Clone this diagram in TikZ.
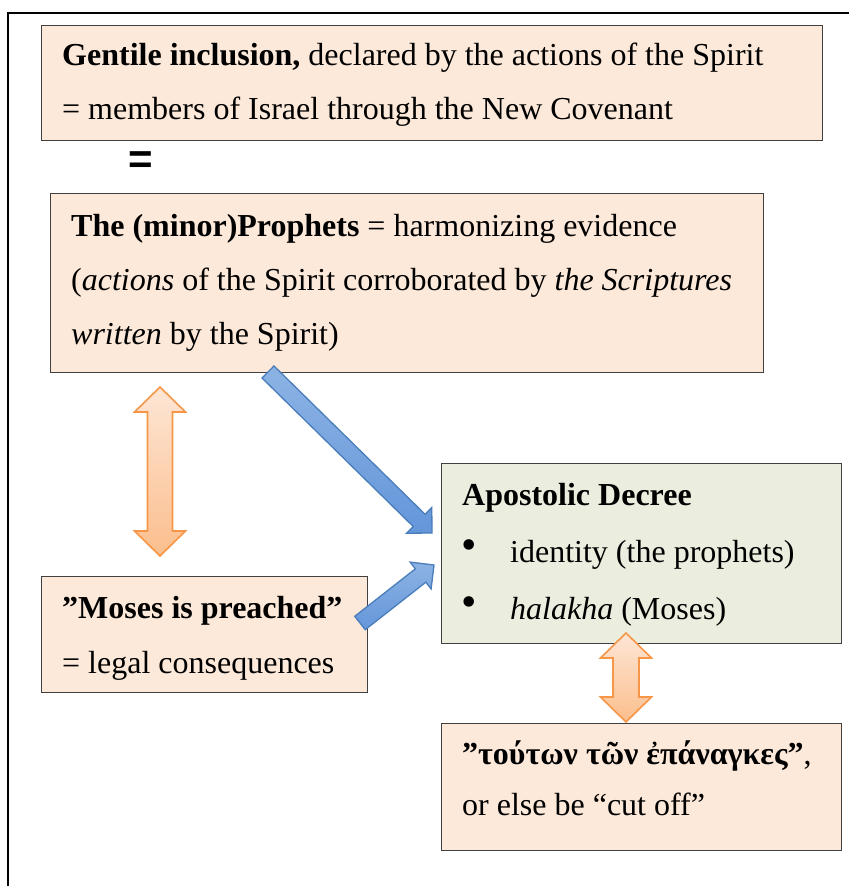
\documentclass[tikz,border=0pt]{standalone}
\usepackage{fontspec}
\setmainfont{Liberation Serif}
\newfontfamily\eqfont{Liberation Sans}
\usetikzlibrary{calc}

\definecolor{peach}{HTML}{FDE9DA}
\definecolor{sage}{HTML}{EBEEDF}
\definecolor{edge}{HTML}{404040}
\definecolor{orangeline}{HTML}{F79646}
\definecolor{orangetop}{HTML}{FDE6D6}
\definecolor{orangebot}{HTML}{FBBE8C}
\definecolor{blueline}{HTML}{4A7EBB}
\definecolor{bluetop}{HTML}{8DB3E4}
\definecolor{bluebot}{HTML}{6496DA}

% single block arrow: tail, tip, shaft half width, head half width, head length
\newcommand\blockarrow[6][]{%
  \coordinate (ba-h) at ($(#3)!#6!(#2)$);
  \path[#1] ($(#2)!#4!90:(#3)$) -- ($(ba-h)!#4!90:(#3)$) -- ($(ba-h)!#5!90:(#3)$)
    -- (#3) -- ($(ba-h)!#5!-90:(#3)$) -- ($(ba-h)!#4!-90:(#3)$)
    -- ($(#2)!#4!-90:(#3)$) -- cycle;}

% double block arrow: tip A, tip B, shaft half width, head half width, head length
\newcommand\twowayarrow[6][]{%
  \coordinate (da-a) at ($(#2)!#6!(#3)$);
  \coordinate (da-b) at ($(#3)!#6!(#2)$);
  \path[#1] (#2) -- ($(da-a)!#5!90:(#3)$) -- ($(da-a)!#4!90:(#3)$)
    -- ($(da-b)!#4!-90:(#2)$) -- ($(da-b)!#5!-90:(#2)$) -- (#3)
    -- ($(da-b)!#5!90:(#2)$) -- ($(da-b)!#4!90:(#2)$)
    -- ($(da-a)!#4!-90:(#3)$) -- ($(da-a)!#5!-90:(#3)$) -- cycle;}

\begin{document}
\begin{tikzpicture}[x=1pt,y=-1pt,
  box/.style={draw=edge, line width=1.3pt, anchor=north west, inner sep=0pt},
  txt/.style={anchor=base west, inner sep=0pt, font=\fontsize{32}{38}\selectfont},
  dot/.style={anchor=center, inner sep=0pt, font=\fontsize{44}{44}\selectfont},
  orangearrow/.style={draw=orangeline, line width=1.6pt, line join=miter,
    top color=orangetop, bottom color=orangebot},
  bluearrow/.style={draw=blueline, line width=1.3pt, line join=miter,
    top color=bluetop, bottom color=bluebot}]
\useasboundingbox (0,0) rectangle (849,886);

% outer frame (top and left rules)
\draw[line width=2.6pt] (849,13) -- (8,13) -- (8,886);

% boxes
\node[box, fill=peach, minimum width=781pt, minimum height=115pt] (gentile) at (41,25) {};
\node[box, fill=peach, minimum width=713pt, minimum height=179pt] (prophets) at (50,193) {};
\node[box, fill=peach, minimum width=326pt, minimum height=116pt] (moses) at (41,576) {};
\node[box, fill=sage, minimum width=400pt, minimum height=180pt] (decree) at (441,463) {};
\node[box, fill=peach, minimum width=400pt, minimum height=127pt] (greek) at (441,723) {};

% texts
\node[txt] (gentile-1) at (62,65) {\textbf{Gentile inclusion,} declared by the actions of the Spirit};
\node[txt] (gentile-2) at (62,119) {= members of Israel through the New Covenant};
\node[anchor=center, inner sep=0pt, font=\eqfont\bfseries\fontsize{42}{42}\selectfont] (eq) at (141,163) {=};

\node[txt] (prophets-1) at (71,236) {\textbf{The (minor)Prophets} = harmonizing evidence};
\node[txt] (prophets-2) at (71,290) {(\textit{actions} of the Spirit corroborated by \textit{the Scriptures}};
\node[txt] (prophets-3) at (71,344) {\textit{written} by the Spirit)};

\node[txt] (moses-1) at (62,618) {\textbf{”Moses is preached”}};
\node[txt] (moses-2) at (62,673) {= legal consequences};

\node[txt] (decree-1) at (462,505) {\textbf{Apostolic Decree}};
\node[dot] (bullet-1) at (469,550) {•};
\node[txt] (decree-2) at (510,562) {identity (the prophets)};
\node[dot] (bullet-2) at (469,607) {•};
\node[txt] (decree-3) at (510,619) {\textit{halakha} (Moses)};

\node[txt] (greek-1) at (462,764) {\textbf{”τούτων τῶν ἐπάναγκες”},};
\node[txt] (greek-2) at (462,815) {or else be “cut off”};

% connector end points
\coordinate (o1a) at (160,387);
\coordinate (o1b) at (160,556);
\coordinate (o2a) at (626,633);
\coordinate (o2b) at (626,722);
\coordinate (b1a) at (268,372);
\coordinate (b1b) at (432,533);
\coordinate (b2a) at (360,623);
\coordinate (b2b) at (434,565);

% block arrows
\twowayarrow[orangearrow]{o1a}{o1b}{12.5pt}{25.5pt}{25pt}
\twowayarrow[orangearrow]{o2a}{o2b}{13pt}{25.5pt}{25pt}
\blockarrow[bluearrow]{b1a}{b1b}{8.5pt}{18pt}{18pt}
\blockarrow[bluearrow]{b2a}{b2b}{8.5pt}{17pt}{17pt}
\end{tikzpicture}
\end{document}
